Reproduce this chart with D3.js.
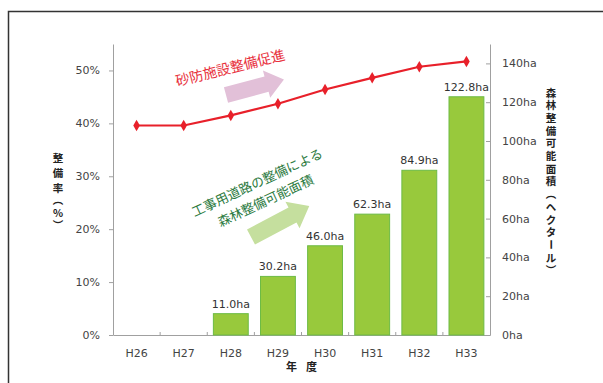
<!DOCTYPE html>
<html lang="ja">
<head>
<meta charset="UTF-8">
<title>整備率と森林整備可能面積</title>
<script src="https://d3js.org/d3.v7.min.js"></script>
<style>
    body { margin: 0; background: #fff; }
    svg { display: block; }
    .tick text { font-family: "DejaVu Sans", Verdana, sans-serif; font-size: 11px; fill: #444; }
    .jp { font-family: "Noto Sans CJK JP", sans-serif; }
</style>
<script>

    const YEARS = ["H26", "H27", "H28", "H29", "H30", "H31", "H32", "H33"];
    const AREA_HA = [0, 0, 11.0, 30.2, 46.0, 62.3, 84.9, 122.8];
    const RATE_PCT = [39.6, 39.6, 41.5, 43.7, 46.4, 48.6, 50.7, 51.7];
    const RATE_TICKS = [0, 10, 20, 30, 40, 50];
    const AREA_TICKS = [0, 20, 40, 60, 80, 100, 120, 140];

    document.addEventListener("DOMContentLoaded", function() {
        drawChart();
    })

    function drawChart() {
        const width = 603, height = 383;
        const left = 113, right = 490, top = 44, bottom = 335;

        const svg = d3.select("svg").attr("width", width).attr("height", height);

        // outer frame
        svg.append("rect")
            .attr("x", 8.5).attr("y", 11.5)
            .attr("width", 700).attr("height", 500)
            .attr("fill", "none").attr("stroke", "#333").attr("stroke-width", 1.5);

        const x = d3.scaleBand().domain(YEARS).range([left, right])
            .paddingInner(0.26).paddingOuter(0.13);
        const yL = d3.scaleLinear().domain([0, 55]).range([bottom, top]);
        const yR = d3.scaleLinear().domain([0, 150]).range([bottom, top]);

        // axes
        const axL = svg.append("g").attr("transform", "translate(" + left + ",0)")
            .call(d3.axisLeft(yL).tickValues(RATE_TICKS).tickSizeInner(4).tickSizeOuter(0)
                .tickPadding(9).tickFormat(d => d + "%"));
        const axR = svg.append("g").attr("transform", "translate(" + right + ",0)")
            .call(d3.axisRight(yR).tickValues(AREA_TICKS).tickSizeInner(-4).tickSizeOuter(0)
                .tickPadding(12).tickFormat(d => d + "ha"));
        const axB = svg.append("g").attr("transform", "translate(0," + bottom + ")")
            .call(d3.axisBottom(x).tickSize(0).tickPadding(14));

        [axL, axR, axB].forEach(a => {
            a.select(".domain").attr("stroke", "#a0a0a0");
            a.selectAll(".tick line").attr("stroke", "#a0a0a0");
        });

        // category boundary ticks on the baseline
        const step = (right - left) / YEARS.length;
        svg.append("g").selectAll("line")
            .data(d3.range(1, YEARS.length))
            .enter().append("line")
            .attr("x1", i => left + i * step).attr("x2", i => left + i * step)
            .attr("y1", bottom).attr("y2", bottom - 3)
            .attr("stroke", "#a0a0a0");

        // bars
        const barData = YEARS.map((y, i) => ({year: y, v: AREA_HA[i]})).filter(d => d.v > 0);
        svg.append("g").selectAll("rect")
            .data(barData)
            .enter().append("rect")
            .attr("x", d => x(d.year))
            .attr("y", d => yR(d.v))
            .attr("width", x.bandwidth())
            .attr("height", d => bottom - yR(d.v))
            .attr("fill", "#98c93c")
            .attr("stroke", "#6dbb45")
            .attr("stroke-width", 1);

        svg.append("g").selectAll("text")
            .data(barData)
            .enter().append("text")
            .attr("x", d => x(d.year) + x.bandwidth() / 2)
            .attr("y", d => yR(d.v) - 6)
            .attr("text-anchor", "middle")
            .style("font-family", "'DejaVu Sans', Verdana, sans-serif")
            .style("font-size", "11px")
            .attr("fill", "#333")
            .text(d => d.v.toFixed(1) + "ha");

        // rate line
        const pts = YEARS.map((y, i) => ({year: y, v: RATE_PCT[i]}));
        const cx = d => x(d.year) + x.bandwidth() / 2;
        svg.append("path")
            .datum(pts)
            .attr("d", d3.line().x(cx).y(d => yL(d.v)))
            .attr("fill", "none")
            .attr("stroke", "#e8202a")
            .attr("stroke-width", 2.2);
        svg.append("g").selectAll("path")
            .data(pts)
            .enter().append("path")
            .attr("transform", d => "translate(" + cx(d) + "," + yL(d.v) + ")")
            .attr("d", d3.symbol(d3.symbolDiamond, 38))
            .attr("fill", "#e8202a");

        // axis titles
        const xt = svg.append("text").attr("class", "jp")
            .attr("y", 371)
            .attr("text-anchor", "middle")
            .style("font-size", "11px").style("font-weight", "bold").attr("fill", "#222");
        [["年", -10], ["度", 10]].forEach(t => {
            xt.append("tspan").attr("x", (left + right) / 2 + t[1]).text(t[0]);
        });

        verticalTitle(svg, 58, [["整", 157], ["備", 172], ["率", 187], ["︵", 199], ["%", 212], ["︶", 224]]);
        const rTitle = "森林整備可能面積︵ヘクタール︶".split("").map((c, i) => [c, 92 + i * 12.7]);
        verticalTitle(svg, 551, rTitle);

        // annotation arrows
        arrow(svg, 226, 95, -15, 60, 8, 14, 18, "#e2c0d8");
        arrow(svg, 251, 237, -28, 66, 8.5, 15, 19, "#c5df9e");

        // annotation texts
        svg.append("text").attr("class", "jp")
            .attr("transform", "translate(230,67) rotate(-14)")
            .attr("text-anchor", "middle").attr("dominant-baseline", "central")
            .style("font-size", "14px").attr("fill", "#e8303c")
            .text("砂防施設整備促進");

        const g2 = svg.append("g").attr("transform", "translate(261,191) rotate(-25)");
        [["工事用道路の整備による", -10], ["森林整備可能面積", 10]].forEach(t => {
            g2.append("text").attr("class", "jp")
                .attr("y", t[1])
                .attr("text-anchor", "middle").attr("dominant-baseline", "central")
                .style("font-size", "13px").attr("fill", "#2b7a3e")
                .text(t[0]);
        });
    }

    // stacked vertical title, one character per line
    function verticalTitle(svg, cx, chars) {
        const g = svg.append("g");
        chars.forEach(c => {
            g.append("text").attr("class", "jp")
                .attr("transform", "translate(" + cx + "," + c[1] + ")" + (c[0] === "ー" ? " rotate(90)" : ""))
                .attr("text-anchor", "middle").attr("dominant-baseline", "central")
                .style("font-size", "10.5px").style("font-weight", "bold").attr("fill", "#222")
                .text(c[0]);
        });
    }

    function arrow(svg, tx, ty, angle, len, h, hw, hl, color) {
        const p = [[0, -h], [len - hl, -h], [len - hl, -hw], [len, 0], [len - hl, hw], [len - hl, h], [0, h]];
        svg.append("polygon")
            .attr("transform", "translate(" + tx + "," + ty + ") rotate(" + angle + ")")
            .attr("points", p.map(q => q.join(",")).join(" "))
            .attr("fill", color);
    }

</script>
</head>
<body>
    <svg id="chart"></svg>
</body>
</html>
